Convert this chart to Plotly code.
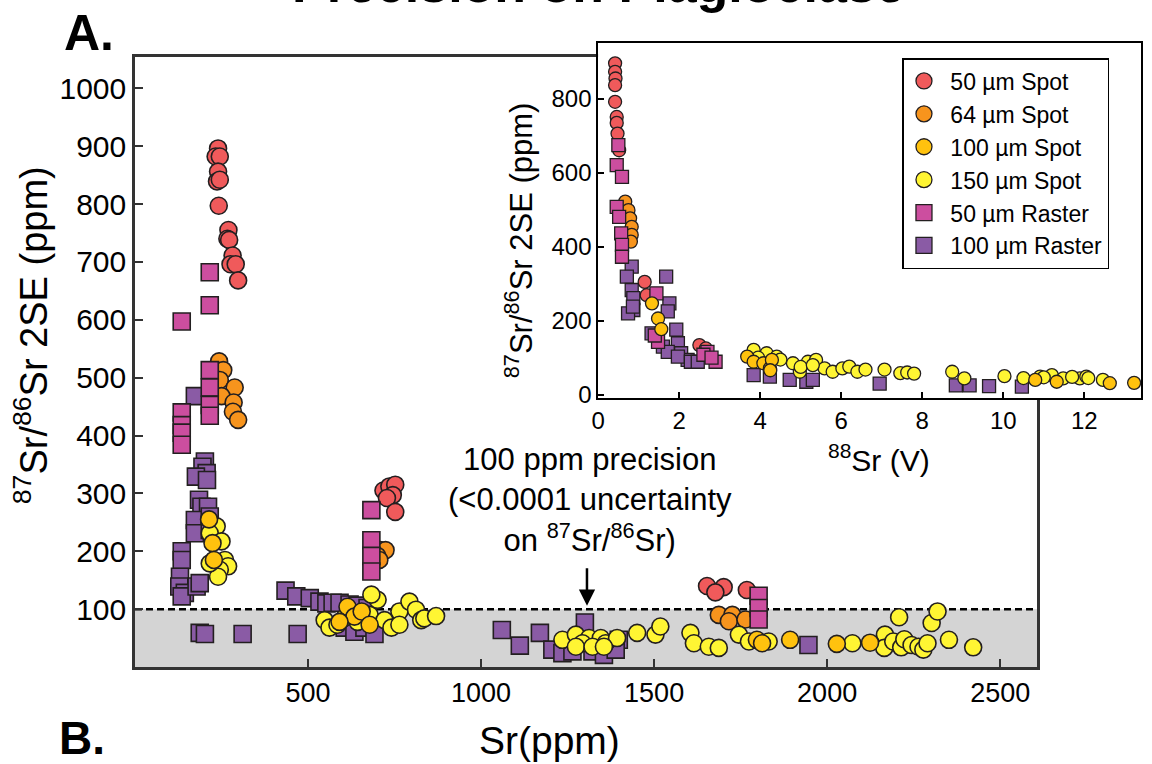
import plotly.graph_objects as go

# ---------------- Main panel data: Sr (ppm) vs 87Sr/86Sr 2SE (ppm) ----------------
red_sr = [240, 233, 245, 240, 237, 245, 242, 270, 267, 272, 282, 276, 291, 298,
          718, 735, 752, 745, 728, 752, 1653, 1701, 1677, 1768]
red_se = [896, 882, 882, 856, 839, 842, 797, 755, 740, 738, 711, 696, 696, 668,
          305, 312, 315, 297, 292, 268, 140, 138, 129, 133]

org_sr = [243, 255, 245, 288, 250, 285, 283, 298, 692, 709, 724, 700, 706,
          1687, 1726, 1716, 1764]
org_se = [528, 513, 496, 483, 468, 457, 441, 427, 202, 202, 202, 192, 185,
          90, 90, 79, 82]

gold_sr = [214, 224, 228, 614, 634, 655, 591, 678, 1797, 1812, 1893, 2028, 2124]
gold_se = [255, 214, 185, 104, 87, 96, 78, 73, 47, 41, 47, 40, 42]

yel_sr = [236, 216, 250, 260, 269, 245, 240, 216,
          548, 562, 585, 605, 643, 678, 701, 721, 741, 764, 683,
          764, 793, 812, 827, 836, 870,
          1235, 1274, 1312, 1293, 1346, 1360, 1393, 1274, 1322, 1355, 1451, 1504, 1518,
          1605, 1615, 1658, 1687, 1745, 1774, 1831,
          2073, 2167, 2165, 2191, 2214, 2223, 2244, 2264, 2278, 2290, 2208, 2302, 2319,
          2352, 2422]
yel_se = [243, 231, 217, 185, 174, 168, 156, 179,
          81, 68, 73, 85, 78, 90, 116, 81, 68, 96, 125,
          73, 113, 99, 81, 84, 88,
          47, 56, 50, 41, 50, 41, 50, 35, 35, 35, 59, 56, 70,
          59, 41, 35, 33, 56, 44, 44,
          41, 56, 33, 44, 34, 48, 38, 35, 30, 41, 86, 76, 96,
          47, 34]

mag_sr = [216, 216, 135, 135, 135, 135, 135, 216, 216, 216, 216,
          683, 683, 683, 683, 1802, 1802, 1802]
mag_se = [682, 625, 597, 440, 418, 405, 384, 513, 483, 453, 434,
          271, 219, 192, 165, 123, 102, 82]

pur_sr = [173, 202, 195, 207, 176, 208, 185, 192, 211, 173, 216, 173, 216,
          135, 135, 130, 128, 144, 135, 178, 187,
          435, 466, 505, 533, 553, 571, 591, 620, 643, 672, 606, 634, 663, 692,
          187, 202, 311, 470,
          1060, 1112, 1170, 1206, 1300, 1235, 1264, 1322, 1355, 1398, 1389, 1946]
pur_se = [468, 355, 346, 335, 329, 323, 289, 277, 277, 254, 260, 231, 237,
          200, 185, 156, 139, 128, 122, 139, 145,
          132, 122, 119, 113, 110, 111, 111, 108, 106, 102, 68, 61, 68, 57,
          59, 57, 57, 57,
          64, 37, 59, 30, 77, 24, 27, 27, 21, 47, 30, 38]

# ---------------- Inset data: 88Sr (V) vs 87Sr/86Sr 2SE (ppm) ----------------
i_red_v = [0.42, 0.42, 0.43, 0.42, 0.42, 0.46, 0.46, 0.48, 0.52, 1.15, 1.20, 2.50, 2.66]
i_red_se = [896, 873, 855, 837, 792, 751, 735, 706, 661, 305, 269, 134, 125]

i_org_v = [0.67, 0.75, 0.79, 0.83, 0.83, 0.81]
i_org_se = [522, 499, 477, 454, 432, 414]

i_gold_v = [1.33, 1.48, 1.56, 3.68, 3.84, 4.08, 4.24, 4.29, 4.25, 10.79, 11.32, 12.63, 13.23]
i_gold_se = [247, 206, 177, 103, 89, 85, 71, 94, 66, 40, 35, 31, 32]

i_yel_v = [3.84, 4.16, 4.41, 4.81, 4.98, 5.18, 5.38, 5.59, 5.79, 6.03, 6.20, 6.40,
           7.07, 7.46, 7.63, 7.80, 8.74, 9.04, 10.03, 10.91, 11.20, 11.48, 11.89,
           12.05, 12.46, 3.95, 4.50, 5.00, 5.30, 6.60, 10.50, 11.00, 11.70, 12.10]
i_yel_se = [121, 112, 103, 85, 62, 89, 94, 71, 62, 71, 76, 62,
            68, 58, 60, 57, 62, 44, 50, 49, 53, 44, 44,
            49, 40, 100, 95, 75, 80, 68, 45, 47, 48, 45]

i_mag_v = [0.50, 0.46, 0.59, 0.46, 0.52, 0.57, 0.59, 0.59, 1.44, 1.48, 2.70, 2.90,
           1.40, 2.60, 2.80]
i_mag_se = [675, 621, 589, 508, 481, 436, 405, 373, 274, 143, 116, 89, 160, 108, 100]

i_pur_v = [0.83, 0.71, 0.83, 0.87, 0.87, 0.74, 0.86, 1.68, 1.76, 1.72, 1.93, 1.97,
           2.05, 2.21, 1.32, 1.60, 1.72, 1.97, 2.29, 2.46, 3.84, 4.24, 4.73, 5.14,
           5.30, 6.95, 8.83, 9.17, 9.65, 10.46]
i_pur_se = [346, 319, 283, 261, 229, 220, 238, 319, 247, 225, 176, 139,
            112, 94, 166, 130, 116, 103, 89, 89, 53, 49, 40, 35,
            40, 30, 25, 25, 23, 22]

# ---------------- Styling ----------------
FONT = "Liberation Sans, Arial, Helvetica, sans-serif"
EDGE = "#231F20"
C_RED = "#F05A5B"
C_ORG = "#F7941D"
C_GOLD = "#FFC20E"
C_YEL = "#FFF533"
C_MAG = "#CC4E9F"
C_PUR = "#8A5BA5"

series = [
    # (name, main_x, main_y, inset_x, inset_y, color, symbol, legend rank)
    ("100 µm Raster", pur_sr, pur_se, i_pur_v, i_pur_se, C_PUR, "square", 6),
    ("50 µm Spot", red_sr, red_se, i_red_v, i_red_se, C_RED, "circle", 1),
    ("64 µm Spot", org_sr, org_se, i_org_v, i_org_se, C_ORG, "circle", 2),
    ("50 µm Raster", mag_sr, mag_se, i_mag_v, i_mag_se, C_MAG, "square", 5),
    ("150 µm Spot", yel_sr, yel_se, i_yel_v, i_yel_se, C_YEL, "circle", 4),
    ("100 µm Spot", gold_sr, gold_se, i_gold_v, i_gold_se, C_GOLD, "circle", 3),
]

fig = go.Figure()
for name, mx, my, ix, iy, col, sym, rank in series:
    fig.add_trace(go.Scatter(
        x=mx, y=my, mode="markers", name=name, showlegend=False,
        marker=dict(color=col, symbol=sym, size=17, line=dict(color=EDGE, width=1.6)),
        xaxis="x", yaxis="y"))
for name, mx, my, ix, iy, col, sym, rank in series:
    fig.add_trace(go.Scatter(
        x=ix, y=iy, mode="markers", name=name, showlegend=False,
        marker=dict(color=col, symbol=sym, size=13, line=dict(color=EDGE, width=1.3)),
        xaxis="x2", yaxis="y2"))
# legend-only entries (larger symbols, like the reference legend)
for name, mx, my, ix, iy, col, sym, rank in series:
    fig.add_trace(go.Scatter(
        x=[None], y=[None], mode="markers", name=" " + name, showlegend=True,
        legendrank=rank,
        marker=dict(color=col, symbol=sym, size=16, line=dict(color=EDGE, width=1.3)),
        xaxis="x2", yaxis="y2"))

# Plot area spans px 135..1143 (x) and 43..667 (y)
W0, W1, T0, B0 = 135, 1143, 43, 667
PW, PH = W1 - W0, B0 - T0


def px(xp):
    return (xp - W0) / PW


def py(yp):
    return (B0 - yp) / PH


main_xmax = 2607
main_ymax = 1054

fig.update_layout(
    width=1152, height=764, autosize=False,
    margin=dict(l=W0, r=1152 - W1, t=T0, b=764 - B0),
    paper_bgcolor="white", plot_bgcolor="white",
    font=dict(family=FONT, color="black"),
    xaxis=dict(domain=[0, px(1039)], range=[0, main_xmax],
               tickvals=[500, 1000, 1500, 2000, 2500],
               ticks="inside", ticklen=8, tickwidth=2, tickcolor="#333",
               showline=True, linewidth=2.5, linecolor="#333", mirror=True,
               showgrid=False, zeroline=False,
               tickfont=dict(size=27, family=FONT), anchor="y"),
    yaxis=dict(domain=[0, py(57)], range=[0, main_ymax],
               tickvals=[100, 200, 300, 400, 500, 600, 700, 800, 900, 1000],
               ticks="inside", ticklen=8, tickwidth=2, tickcolor="#333",
               showline=True, linewidth=2.5, linecolor="#333", mirror=True,
               showgrid=False, zeroline=False,
               tickfont=dict(size=30, family=FONT), anchor="x"),
    xaxis2=dict(domain=[px(599), 1], range=[0, 13.4],
                tickvals=[0, 2, 4, 6, 8, 10, 12],
                ticks="inside", ticklen=6, tickwidth=1.5, tickcolor="black",
                showline=True, linewidth=1.5, linecolor="black", mirror=True,
                showgrid=False, zeroline=False,
                tickfont=dict(size=24, family=FONT), anchor="y2"),
    yaxis2=dict(domain=[py(398), 1], range=[-9, 951],
                tickvals=[0, 200, 400, 600, 800],
                ticks="inside", ticklen=6, tickwidth=1.5, tickcolor="black",
                showline=True, linewidth=1.5, linecolor="black", mirror=True,
                showgrid=False, zeroline=False,
                tickfont=dict(size=24, family=FONT), anchor="x2"),
    legend=dict(x=px(904), y=py(58), xanchor="left", yanchor="top",
                bgcolor="white", bordercolor="black", borderwidth=1.5,
                font=dict(size=23, family=FONT), tracegroupgap=0,
                itemwidth=30),
    showlegend=True,
)

# grey band below 100 ppm and dashed 100 ppm line
fig.add_shape(type="rect", xref="x", yref="y", x0=0, x1=main_xmax, y0=0, y1=100,
              fillcolor="#D4D4D4", line=dict(width=0), layer="below")
fig.add_shape(type="line", xref="x", yref="y", x0=0, x1=main_xmax, y0=100, y1=100,
              line=dict(color="black", width=2.5, dash="7px,4px"), layer="below")

ann = []
# Title (cut off at top, as in the reference)
ann.append(dict(text="<b>Precision on Plagioclase</b>", xref="paper", yref="paper",
                x=px(599), y=py(-16), xanchor="center", yanchor="middle",
                showarrow=False, font=dict(size=52, family=FONT)))
ann.append(dict(text="<b>A.</b>", xref="paper", yref="paper", x=px(62), y=py(33),
                xanchor="left", yanchor="middle", showarrow=False,
                font=dict(size=50, family=FONT)))
ann.append(dict(text="<b>B.</b>", xref="paper", yref="paper", x=px(57), y=py(738),
                xanchor="left", yanchor="middle", showarrow=False,
                font=dict(size=46, family=FONT)))
# main axis titles
ann.append(dict(text="Sr(ppm)", xref="paper", yref="paper", x=px(550), y=py(740),
                xanchor="center", yanchor="middle", showarrow=False,
                font=dict(size=39, family=FONT)))
ann.append(dict(text="<sup>87</sup>Sr/<sup>86</sup>Sr 2SE (ppm)", xref="paper", yref="paper",
                x=px(31), y=py(335), xanchor="center", yanchor="middle", textangle=-90,
                showarrow=False, font=dict(size=38, family=FONT)))
# inset axis titles
ann.append(dict(text="<sup>88</sup>Sr (V)", xref="paper", yref="paper", x=px(880), y=py(458),
                xanchor="center", yanchor="middle", showarrow=False,
                font=dict(size=30, family=FONT)))
ann.append(dict(text="<sup>87</sup>Sr/<sup>86</sup>Sr 2SE (ppm)", xref="paper", yref="paper",
                x=px(520), y=py(240), xanchor="center", yanchor="middle", textangle=-90,
                showarrow=False, font=dict(size=31, family=FONT)))
# precision note and arrow
ann.append(dict(text="100 ppm precision<br>(<0.0001 uncertainty<br>on <sup>87</sup>Sr/<sup>86</sup>Sr)",
                xref="paper", yref="paper", x=px(591), y=py(500), xanchor="center",
                yanchor="middle", showarrow=False, align="center",
                font=dict(size=31, family=FONT)))
ann.append(dict(text=" ", xref="x", yref="y", x=1306, y=106, ax=0, ay=-46,
                showarrow=True, arrowhead=2, arrowsize=1.3, arrowwidth=2.5,
                arrowcolor="black"))
fig.update_layout(annotations=ann)

fig.write_html("out.html")
